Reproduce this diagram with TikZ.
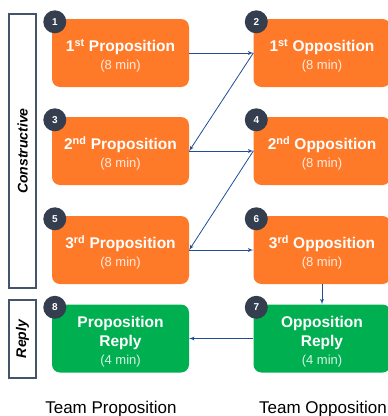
\documentclass[tikz,border=0pt]{standalone}
\usepackage{fontspec}
\setmainfont{Liberation Sans}
\usetikzlibrary{shapes,arrows,positioning}
\definecolor{speechorange}{RGB}{255,122,40}
\definecolor{replygreen}{RGB}{0,176,80}
\definecolor{badgegray}{RGB}{52,62,78}
\definecolor{framegray}{RGB}{68,84,106}
\definecolor{arrowblue}{RGB}{31,78,150}
\tikzstyle{block} = [rectangle, fill=speechorange, text=white, align=center,
    font=\bfseries\fontsize{15.5}{19}\selectfont, rounded corners=8pt,
    minimum width=137pt, minimum height=68pt, inner sep=0pt]
\tikzstyle{reply} = [block, fill=replygreen]
\tikzstyle{badge} = [circle, fill=badgegray, text=white, inner sep=0pt,
    minimum size=23pt, font=\bfseries\fontsize{10}{12}\selectfont]
\tikzstyle{frame} = [rectangle, draw=framegray, line width=2.2pt, inner sep=0pt]
\tikzstyle{line} = [draw, -latex', arrowblue, line width=0.8pt]
\newcommand{\topstrut}{\rule{0pt}{18pt}}
\newcommand{\mins}[1]{\\[-1pt]{\mdseries\fontsize{13}{15}\selectfont\color{white!85!speechorange}(#1 min)}}
\newcommand{\rmins}[1]{\\[-1pt]{\mdseries\fontsize{13}{15}\selectfont\color{white!85!replygreen}(#1 min)}}

\begin{document}
\begin{tikzpicture}[x=1pt, y=-1pt]
		\useasboundingbox (0,0) rectangle (388,416);
		\node [block] (prop1) at (120.5,53) {\topstrut1\textsuperscript{st} Proposition\mins{8}};
		\node [block] (opp1) at (322,53) {\topstrut1\textsuperscript{st} Opposition\mins{8}};
		\node [block] (prop2) at (120.5,151) {\topstrut2\textsuperscript{nd} Proposition\mins{8}};
		\node [block] (opp2) at (322,151) {\topstrut2\textsuperscript{nd} Opposition\mins{8}};
		\node [block] (prop3) at (120.5,250) {\topstrut3\textsuperscript{rd} Proposition\mins{8}};
		\node [block] (opp3) at (322,250) {\topstrut3\textsuperscript{rd} Opposition\mins{8}};
		\node [reply] (propreply) at (120.5,338.5) {\topstrut Proposition\\Reply\rmins{4}};
		\node [reply] (oppreply) at (322,338.5) {\topstrut Opposition\\Reply\rmins{4}};
		
		% step numbers
		\node [badge] at ([shift={(3,3)}]prop1.north west) {1};
		\node [badge] at ([shift={(3,3)}]opp1.north west) {2};
		\node [badge] at ([shift={(3,3)}]prop2.north west) {3};
		\node [badge] at ([shift={(3,3)}]opp2.north west) {4};
		\node [badge] at ([shift={(3,3)}]prop3.north west) {5};
		\node [badge] at ([shift={(3,3)}]opp3.north west) {6};
		\node [badge] at ([shift={(3,3)}]oppreply.north west) {7};
		\node [badge] at ([shift={(3,3)}]propreply.north west) {8};
		
		% stage frames
		\node [frame, minimum width=27pt, minimum height=274pt] (constructive) at (22.5,151) {};
		\node [rotate=90, font=\bfseries\itshape\fontsize{14}{16}\selectfont] at (constructive) {Constructive};
		\node [frame, minimum width=27pt, minimum height=78pt] (replyframe) at (22.5,339) {};
		\node [rotate=90, font=\bfseries\itshape\fontsize{14}{16}\selectfont] at (replyframe) {Reply};
		
		\node [font=\fontsize{17}{19}\selectfont] (teamprop) at (111,409) {Team Proposition};
		\node [font=\fontsize{17}{19}\selectfont] (teamopp) at (323,409) {Team Opposition};
		
		\path [line] (prop1) -- (opp1);
		\path [line] (opp1.west) -- (prop2.east);
		\path [line] (prop2) -- (opp2);
		\path [line] (opp2.west) -- (prop3.east);
		\path [line] (prop3) -- (opp3);
		\path [line] (opp3) -- (oppreply);
		\path [line] (oppreply) -- (propreply);
	\end{tikzpicture}
\end{document}
